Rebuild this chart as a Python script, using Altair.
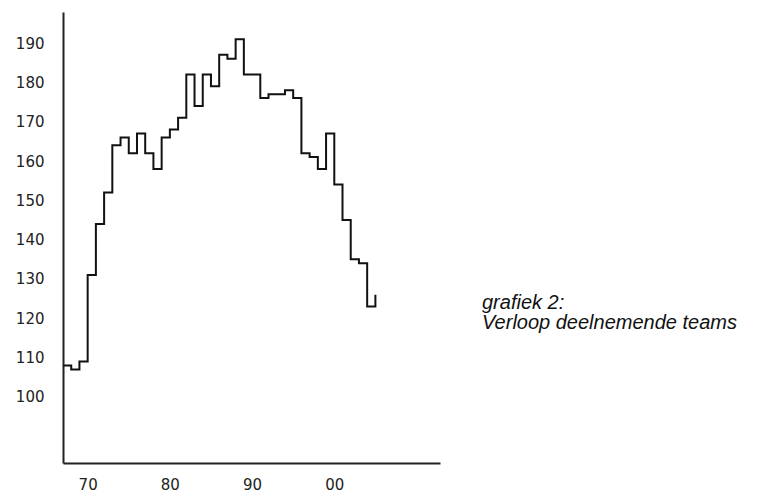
import altair as alt
import pandas as pd

years = list(range(1967, 2006))
teams = [108, 107, 109, 131, 144, 152, 164, 166, 162, 167,
         162, 158, 166, 168, 171, 182, 174, 182, 179, 187,
         186, 191, 182, 182, 176, 177, 177, 178, 176, 162,
         161, 158, 167, 154, 145, 135, 134, 123, 126]
y_ticks = [100, 110, 120, 130, 140, 150, 160, 170, 180, 190]
x_ticks = [1970, 1980, 1990, 2000]
caption = "grafiek 2:\nVerloop deelnemende teams"

df = pd.DataFrame({"jaar": years, "teams": teams})

line = alt.Chart(df).mark_line(
    interpolate="step-after", color="#111111", strokeWidth=2
).encode(
    x=alt.X("jaar:Q",
            scale=alt.Scale(domain=[1967, 2012.86], nice=False, zero=False),
            axis=alt.Axis(values=x_ticks, title=None, grid=False, ticks=False,
                          tickSize=0, labelPadding=14,
                          labelExpr="format(datum.value % 100, '02d')",
                          domainColor="#222222", domainWidth=2,
                          labelFont="DejaVu Sans", labelFontSize=15,
                          labelColor="#222222")),
    y=alt.Y("teams:Q",
            scale=alt.Scale(domain=[83.2, 197.9], nice=False, zero=False),
            axis=alt.Axis(values=y_ticks, title=None, grid=False, ticks=False,
                          tickSize=0, labelPadding=19,
                          domainColor="#222222", domainWidth=2,
                          labelFont="DejaVu Sans", labelFontSize=15,
                          labelColor="#222222")),
)

text = alt.Chart(pd.DataFrame({"t": [caption]})).mark_text(
    align="left", baseline="middle", font="Liberation Sans", fontStyle="italic",
    fontSize=20, lineBreak="\n", lineHeight=20, color="#111111"
).encode(
    text="t:N",
    x=alt.value(419),
    y=alt.value(291),
)

chart = (line + text).properties(
    width=377, height=451,
    autosize=alt.AutoSizeParams(type="none"),
    padding={"left": 55, "top": 4, "right": 308, "bottom": 29},
).configure_view(stroke=None)

chart.save("out.html", embed_options={"renderer": "svg", "actions": False})
